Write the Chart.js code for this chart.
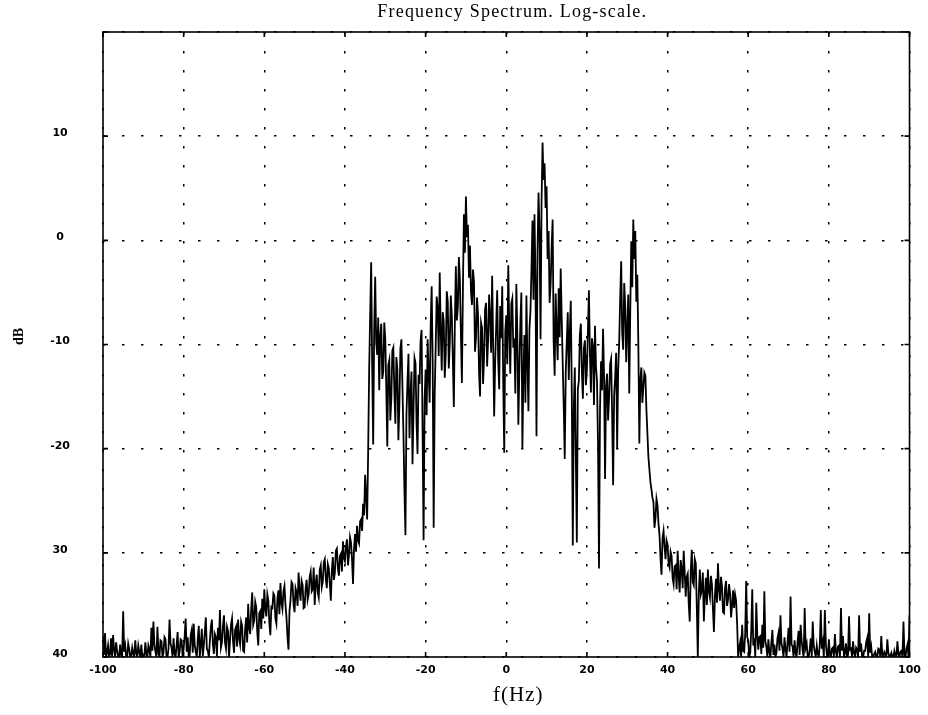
<!DOCTYPE html>
<html>
<head>
<meta charset="utf-8">
<script src="https://cdn.jsdelivr.net/npm/chart.js@4.4.1/dist/chart.umd.min.js"></script>
<style>
  html, body { margin: 0; padding: 0; background: #fff; }
  #wrap { width: 928px; height: 715px; position: relative; }
</style>
</head>
<body>
<div id="wrap"><canvas id="spectrum"></canvas></div>
<script>
// Spectrum magnitude in dB, sampled every 0.25 Hz from -100 Hz to +100 Hz.
const freqStart = -100;
const freqStep = 0.25;

// -100 .. -90.25 Hz
const dbM100 = [-38.0,-39.8,-37.7,-40.0,-39.6,-38.9,-40.0,-39.7,-38.2,-40.0,-37.9,-39.3,-40.0,-38.6,-39.4,-40.0,-40.0,-38.8,-39.8,-40.0,
                -35.6,-39.5,-38.9,-40.0,-40.0,-38.7,-39.2,-40.0,-40.0,-39.1,-39.6,-40.0,-38.4,-39.6,-40.0,-38.9,-39.5,-40.0,-38.8,-39.9];
// -90 .. -80.25 Hz
const dbM90 = [-39.8,-40.0,-38.6,-39.7,-40.0,-38.9,-39.3,-40.0,-37.2,-39.4,-36.6,-38.8,-39.5,-40.0,-37.1,-39.6,-40.0,-38.4,-38.5,-40.0,
               -39.6,-38.1,-38.3,-40.0,-40.0,-39.2,-36.4,-38.7,-39.1,-40.0,-38.2,-39.7,-40.0,-38.9,-37.6,-40.0,-39.5,-38.3,-38.4,-40.0];
// -80 .. -70.25 Hz
const dbM80 = [-39.2,-38.0,-36.3,-39.5,-38.1,-40.0,-39.8,-37.9,-37.4,-39.6,-36.8,-38.9,-39.5,-40.0,-38.3,-37.0,-40.0,-38.8,-37.3,-39.9,
               -38.9,-37.6,-36.2,-39.2,-39.4,-40.0,-38.5,-37.1,-36.4,-38.8,-39.7,-37.8,-38.1,-39.9,-37.2,-38.4,-35.5,-39.1,-38.6,-37.0];
// -70 .. -60.25 Hz
const dbM70 = [-36.0,-38.6,-39.2,-37.1,-37.5,-40.0,-38.4,-36.9,-36.3,-38.5,-39.6,-37.4,-37.1,-39.0,-36.4,-38.2,-38.8,-36.6,-37.0,-39.4,
               -39.5,-37.3,-36.2,-38.6,-34.9,-37.2,-37.8,-35.4,-33.8,-36.9,-36.5,-34.7,-35.2,-37.6,-38.9,-35.8,-35.6,-37.3,-34.4,-36.3];
// -60 .. -50.25 Hz
const dbM60 = [-33.5,-35.4,-36.1,-34.0,-34.6,-36.7,-37.9,-35.2,-35.3,-33.9,-34.1,-36.3,-36.8,-34.4,-33.6,-35.9,-32.9,-34.8,-35.4,-33.7,
               -33.2,-35.0,-36.2,-38.1,-39.3,-35.6,-34.5,-32.8,-33.0,-34.9,-35.7,-33.4,-33.8,-35.1,-31.9,-33.6,-34.6,-32.7,-33.1,-35.3];
// -50 .. -40.25 Hz
const dbM50 = [-35.2,-33.4,-32.6,-34.5,-34.0,-32.3,-31.8,-33.7,-33.5,-31.4,-35.0,-32.9,-32.1,-33.8,-34.3,-31.6,-31.2,-33.3,-32.8,-30.9,
               -30.6,-32.5,-33.4,-31.1,-31.5,-33.0,-34.6,-31.7,-30.4,-32.6,-31.9,-29.8,-29.6,-31.5,-32.2,-30.3,-30.1,-31.8,-28.9,-30.5];
// -40 .. -30.25 Hz
const dbM40 = [-30.8,-29.4,-28.7,-31.2,-30.2,-28.5,-29.0,-30.6,-33.0,-29.6,-28.2,-29.9,-27.4,-28.8,-29.1,-27.0,-26.8,-27.9,-25.3,-26.4,
               -22.5,-24.6,-26.8,-20.4,-12.5,-7.2,-2.1,-12.0,-19.6,-8.5,-3.5,-9.8,-11.0,-7.4,-14.4,-9.2,-8.0,-13.3,-12.6,-7.9];
// -30 .. -20.25 Hz
const dbM30 = [-9.5,-14.2,-19.8,-12.0,-11.5,-17.3,-15.2,-10.6,-10.3,-14.5,-17.6,-11.2,-12.4,-19.2,-15.8,-10.4,-9.5,-13.9,-18.5,-24.0,
               -28.3,-16.7,-13.6,-10.9,-19.0,-14.8,-12.6,-21.5,-16.4,-11.3,-11.8,-17.5,-20.5,-12.9,-13.8,-9.7,-8.6,-18.4,-28.8,-15.3];
// -20 .. -10.25 Hz
const dbM20 = [-12.4,-16.8,-9.5,-12.7,-15.6,-8.3,-4.4,-11.6,-27.6,-14.9,-10.2,-5.4,-6.5,-11.1,-3.1,-8.7,-12.5,-6.9,-7.8,-13.2,
               -10.9,-4.9,-5.9,-12.3,-9.8,-5.3,-7.2,-11.4,-16.0,-8.1,-2.5,-7.7,-6.4,-1.6,-3.8,-9.0,-13.7,-4.7,2.5,-1.2];
// -10 .. -0.25 Hz
const dbM10 = [4.2,0.3,1.5,-3.6,-0.5,-4.9,-6.2,-2.8,-4.0,-10.7,-9.3,-5.5,-7.1,-12.6,-15.0,-7.9,-8.4,-13.8,-11.2,-6.6,
               -6.0,-12.1,-9.6,-5.2,-7.5,-10.8,-3.4,-9.9,-16.9,-11.7,-8.2,-4.8,-11.5,-14.3,-6.3,-9.4,-4.4,-13.6,-20.4,-8.8];
// 0 .. 9.75 Hz
const dbP0 = [-7.2,-11.9,-2.4,-8.6,-12.8,-6.1,-5.6,-10.3,-9.4,-14.7,-4.2,-9.0,-17.7,-12.4,-7.8,-5.0,-20.0,-13.1,-9.1,-15.6,
              -5.3,-11.7,-16.4,-8.5,-6.8,-2.9,1.9,-5.7,2.5,-3.8,-18.8,-1.2,4.6,0.8,-9.5,3.6,9.4,5.8,7.4,3.1];
// 10 .. 19.75 Hz
const dbP10 = [5.2,-1.8,0.9,-6.0,-4.2,-0.7,2.0,-9.7,-13.0,-5.1,-8.9,-11.5,-4.6,-9.3,-2.7,-7.4,-11.8,-15.9,-21.0,-12.7,
               -9.8,-6.9,-13.4,-8.8,-5.8,-14.6,-29.3,-16.1,-12.2,-20.7,-29.0,-14.3,-13.5,-9.1,-8.0,-12.6,-15.2,-10.4,-9.6,-13.9];
// 20 .. 29.75 Hz
const dbP20 = [-12.4,-8.7,-4.8,-11.0,-14.6,-9.4,-10.2,-15.8,-8.2,-12.1,-13.5,-19.4,-31.5,-16.2,-11.6,-14.4,-8.5,-13.0,-22.9,-14.0,
               -12.8,-17.3,-15.1,-11.9,-11.4,-16.6,-23.5,-14.9,-13.2,-10.8,-20.0,-12.5,-9.8,-5.6,-2.0,-8.9,-10.5,-4.1,-6.3,-11.7];
// 30 .. 39.75 Hz
const dbP30 = [-8.4,-5.2,-14.7,-6.8,-0.1,-4.5,2.0,-1.8,0.9,-5.9,-3.3,-9.8,-19.5,-13.4,-12.2,-15.6,-14.1,-12.7,-13.0,-16.2,
               -18.5,-20.8,-22.0,-23.2,-23.9,-24.7,-25.1,-27.6,-26.7,-24.8,-25.4,-27.2,-28.3,-30.5,-32.1,-28.6,-27.9,-29.4,-30.6,-28.8];
// 40 .. 49.75 Hz
const dbP40 = [-29.2,-31.0,-31.4,-29.9,-30.3,-32.4,-33.0,-31.3,-31.2,-33.5,-29.8,-32.2,-33.8,-30.7,-31.5,-33.4,-29.8,-31.9,-34.2,-32.3,
               -32.0,-34.9,-36.6,-31.8,-29.7,-32.8,-33.1,-30.6,-31.0,-35.2,-40.0,-33.9,-31.6,-34.0,-33.6,-31.9,-36.6,-34.1,-32.4,-35.0];
// 50 .. 59.75 Hz
const dbP50 = [-31.6,-33.7,-34.3,-32.2,-33.0,-35.4,-37.6,-34.1,-32.5,-34.8,-31.0,-33.5,-34.6,-32.3,-33.2,-35.7,-35.8,-33.4,-32.7,-35.1,
               -34.5,-33.0,-33.9,-36.2,-35.0,-33.6,-35.3,-34.0,-34.6,-36.8,-40.0,-39.2,-38.6,-40.0,-36.9,-39.4,-39.5,-37.8,-32.7,-38.1];
// 60 .. 69.75 Hz
const dbP60 = [-38.4,-40.0,-39.6,-37.5,-33.5,-38.9,-38.2,-40.0,-34.8,-37.9,-39.3,-38.1,-38.0,-39.7,-36.9,-39.1,-33.7,-38.5,-39.0,-40.0,
               -38.3,-39.5,-40.0,-38.6,-37.4,-39.8,-38.8,-40.0,-39.6,-38.2,-37.7,-39.4,-36.0,-38.7,-39.2,-40.0,-38.1,-39.3,-40.0,-38.6];
// 70 .. 79.75 Hz
const dbP70 = [-37.2,-39.5,-34.2,-38.8,-39.0,-40.0,-38.4,-39.6,-40.0,-38.5,-37.5,-39.8,-36.9,-38.4,-39.4,-40.0,-35.3,-39.1,-38.7,-40.0,
               -40.0,-39.3,-38.2,-40.0,-36.6,-38.9,-39.5,-40.0,-38.9,-39.7,-40.0,-38.8,-35.5,-39.2,-38.6,-40.0,-35.5,-38.7,-39.8,-40.0];
// 80 .. 89.75 Hz
const dbP80 = [-38.3,-39.7,-40.0,-39.2,-39.1,-40.0,-37.8,-39.5,-40.0,-39.0,-38.9,-40.0,-35.3,-39.4,-38.0,-40.0,-39.6,-38.7,-40.0,-39.8,
               -36.1,-39.3,-39.2,-40.0,-38.5,-39.6,-40.0,-39.1,-39.3,-40.0,-36.0,-39.5,-38.7,-40.0,-40.0,-39.4,-39.4,-38.6,-38.2,-40.0];
// 90 .. 99.75 Hz
const dbP90 = [-35.8,-39.6,-39.0,-40.0,-40.0,-39.7,-39.5,-40.0,-40.0,-39.2,-39.3,-40.0,-38.0,-39.8,-40.0,-39.5,-39.7,-40.0,-38.3,-39.6,
               -40.0,-39.9,-39.6,-40.0,-40.0,-39.4,-39.8,-40.0,-38.5,-39.7,-40.0,-39.5,-39.4,-40.0,-36.6,-39.8,-40.0,-39.2,-38.8,-40.0];
// 100 Hz
const dbP100 = [-36.0];

// Axis ticks and their printed labels
const xTickValues = [-100, -80, -60, -40, -20, 0, 20, 40, 60, 80, 100];
const xTickLabels = ['-100', '-80', '-60', '-40', '-20', '0', '20', '40', '60', '80', '100'];
const yTickValues = [-40, -30, -20, -10, 0, 10, 20];
const yTickLabels = ['40', '30', '-20', '-10', '0', '10', ''];

const titleText = 'Frequency Spectrum. Log-scale.';
const xTitleText = 'f(Hz)';
const yTitleText = 'dB';

const dbValues = [].concat(dbM100, dbM90, dbM80, dbM70, dbM60, dbM50, dbM40, dbM30, dbM20, dbM10,
                           dbP0, dbP10, dbP20, dbP30, dbP40, dbP50, dbP60, dbP70, dbP80, dbP90, dbP100);
const points = dbValues.map((v, i) => ({ x: freqStart + i * freqStep, y: v }));

// Frame, inward tick marks and the text around the plot
const framePlugin = {
  id: 'frameAndCaptions',
  afterDraw(chart) {
    const { ctx, chartArea: a, scales } = chart;
    const xs = scales.x, ys = scales.y;
    ctx.save();
    ctx.strokeStyle = '#000';
    ctx.lineWidth = 1.6;
    ctx.strokeRect(a.left, a.top, a.right - a.left, a.bottom - a.top);
    const len = 5;
    ctx.beginPath();
    xTickValues.forEach(v => {
      const px = xs.getPixelForValue(v);
      ctx.moveTo(px, a.bottom); ctx.lineTo(px, a.bottom - len);
      ctx.moveTo(px, a.top); ctx.lineTo(px, a.top + len);
    });
    yTickValues.forEach(v => {
      const py = ys.getPixelForValue(v);
      ctx.moveTo(a.left, py); ctx.lineTo(a.left + len, py);
      ctx.moveTo(a.right, py); ctx.lineTo(a.right - len, py);
    });
    ctx.stroke();

    const cx = (a.left + a.right) / 2;
    ctx.fillStyle = '#000';
    ctx.textAlign = 'center';
    ctx.textBaseline = 'alphabetic';
    ctx.font = '18px "Liberation Serif", "Times New Roman", serif';
    ctx.letterSpacing = '1.2px';
    ctx.fillText(titleText, cx + 6, a.top - 15);

    ctx.font = '21px "Liberation Serif", "Times New Roman", serif';
    ctx.letterSpacing = '1px';
    ctx.fillText(xTitleText, cx + 12, a.bottom + 44);

    ctx.letterSpacing = '0px';
    ctx.font = 'bold 14px "Liberation Serif", "Times New Roman", serif';
    ctx.translate(19, (a.top + a.bottom) / 2 - 8);
    ctx.rotate(-Math.PI / 2);
    ctx.textBaseline = 'middle';
    ctx.fillText(yTitleText, 0, 0);
    ctx.restore();
  }
};

const tickFont = { family: '"DejaVu Sans", sans-serif', size: 11, weight: 'bold' };

new Chart(document.getElementById('spectrum'), {
  type: 'line',
  data: {
    datasets: [{
      data: points,
      borderColor: '#000',
      borderWidth: 1.8,
      pointRadius: 0,
      tension: 0,
      fill: false
    }]
  },
  options: {
    responsive: true,
    maintainAspectRatio: false,
    animation: false,
    events: [],
    layout: { padding: { top: 32, right: 18, left: 0, bottom: 0 } },
    plugins: { legend: { display: false }, tooltip: { enabled: false }, title: { display: false } },
    scales: {
      x: {
        type: 'linear',
        min: -100, max: 100,
        afterBuildTicks(scale) { scale.ticks = xTickValues.map(v => ({ value: v })); },
        afterFit(scale) { scale.height = 58; },
        grid: { color: '#000', lineWidth: 1.5, drawTicks: false },
        border: { display: false, dash: [2.5, 16.5] },
        ticks: {
          color: '#000', font: tickFont, padding: 7, maxRotation: 0, autoSkip: false,
          callback: (v) => xTickLabels[xTickValues.indexOf(v)]
        }
      },
      y: {
        type: 'linear',
        min: -40, max: 20,
        afterBuildTicks(scale) { scale.ticks = yTickValues.map(v => ({ value: v })); },
        afterFit(scale) { scale.width = 103; },
        grid: { color: '#000', lineWidth: 1.5, drawTicks: true, tickLength: 8, tickColor: 'rgba(0,0,0,0)' },
        border: { display: false, dash: [2.5, 16.5] },
        ticks: {
          color: '#000', font: tickFont, padding: 25, crossAlign: 'center', labelOffset: -3,
          autoSkip: false,
          callback: (v) => yTickLabels[yTickValues.indexOf(v)]
        }
      }
    }
  },
  plugins: [framePlugin]
});
</script>
</body>
</html>
